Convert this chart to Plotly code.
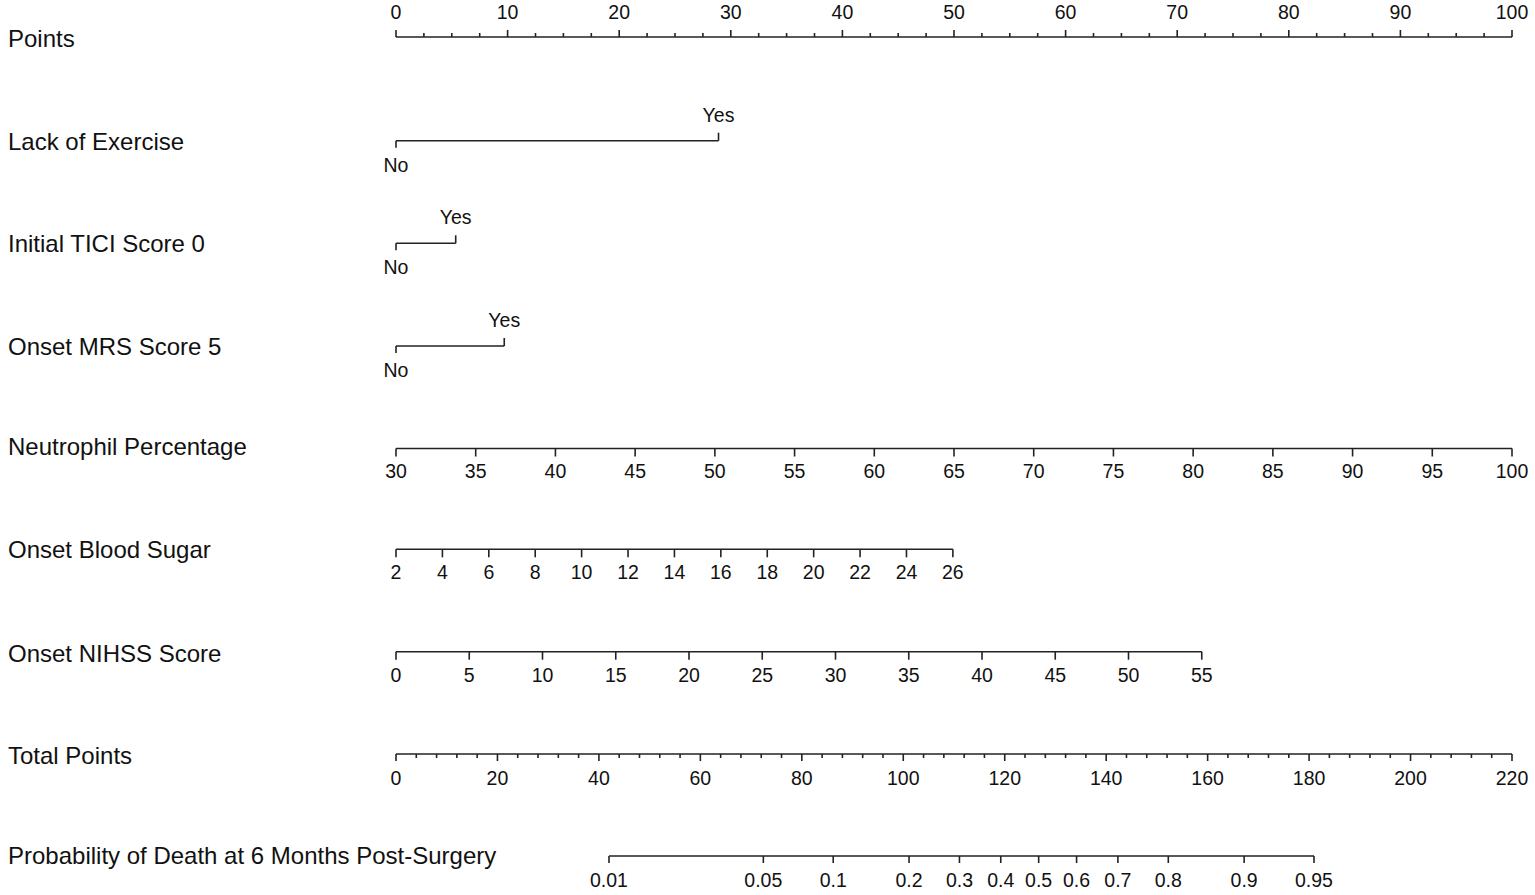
import numpy as np
import plotly.graph_objects as go

# ---------------- data ----------------
row_names = ["Points", "Lack of Exercise", "Initial TICI Score 0", "Onset MRS Score 5",
             "Neutrophil Percentage", "Onset Blood Sugar", "Onset NIHSS Score",
             "Total Points", "Probability of Death at 6 Months Post-Surgery"]

points_major = [0, 10, 20, 30, 40, 50, 60, 70, 80, 90, 100]
points_minor_step = 2.5

lack_levels = ["No", "Yes"]
lack_points = [0, 28.9]
tici_levels = ["No", "Yes"]
tici_points = [0, 5.35]
mrs_levels = ["No", "Yes"]
mrs_points = [0, 9.7]

neutro_ticks = [30, 35, 40, 45, 50, 55, 60, 65, 70, 75, 80, 85, 90, 95, 100]
neutro_points_range = [0, 100]
sugar_ticks = [2, 4, 6, 8, 10, 12, 14, 16, 18, 20, 22, 24, 26]
sugar_points_range = [0, 49.9]
nihss_ticks = [0, 5, 10, 15, 20, 25, 30, 35, 40, 45, 50, 55]
nihss_points_range = [0, 72.2]

total_major = [0, 20, 40, 60, 80, 100, 120, 140, 160, 180, 200, 220]
total_minor_step = 4
total_max = 220

prob_ticks = [0.01, 0.05, 0.1, 0.2, 0.3, 0.4, 0.5, 0.6, 0.7, 0.8, 0.9, 0.95]
prob_intercept = -6.873   # linear predictor = intercept + slope * total points
prob_slope = 0.05425

# ---------------- layout constants ----------------
W, H = 1535, 895
X0_PX, PX_PER_PT = 396, 11.16
row_y = [37, 140.7, 243.3, 346, 448.5, 549.3, 651.7, 754, 856]
LINE_COLOR = "#222222"
TXT = "#111111"
FONT = "Liberation Sans, Arial, sans-serif"
TICK_FS = 19.5
ROW_FS = 24

def lin_map(vals, vmin, vmax, prange):
    vals = np.asarray(vals, float)
    return prange[0] + (vals - vmin) / (vmax - vmin) * (prange[1] - prange[0])

xs, ys = [], []
def seg(x1, y1, x2, y2):
    xs.extend([x1, x2, None]); ys.extend([y1, y2, None])

text_traces = []
def labels(xv, yv, txt):
    text_traces.append(go.Scatter(x=list(xv), y=[yv] * len(xv), text=list(txt), mode="text",
                                  textposition="middle center", hoverinfo="skip", cliponaxis=False,
                                  textfont=dict(family=FONT, size=TICK_FS, color=TXT)))

def scale_axis(y, pos, labs, up=False, tlen=8, loff=25, minor=None, mlen=4):
    sgn = -1 if up else 1
    seg(min(pos), y, max(pos), y)
    for p in pos:
        seg(p, y, p, y + sgn * tlen)
    if minor is not None:
        for p in minor:
            seg(p, y, p, y + sgn * mlen)
    labels(pos, y + sgn * loff, labs)

# Points
pm = np.array(points_major, float)
pminor = [v for v in np.arange(0, 100 + 1e-9, points_minor_step) if v % 10 != 0]
scale_axis(row_y[0], pm, [str(v) for v in points_major], up=True, tlen=7, loff=23, minor=pminor, mlen=4)

# binary variables
for y, levels, pts in [(row_y[1], lack_levels, lack_points),
                       (row_y[2], tici_levels, tici_points),
                       (row_y[3], mrs_levels, mrs_points)]:
    seg(pts[0], y, pts[1], y)
    seg(pts[0], y, pts[0], y + 7)
    seg(pts[1], y, pts[1], y - 8)
    labels([pts[0]], y + 26, [levels[0]])
    labels([pts[1]], y - 24, [levels[1]])

# continuous variables
for y, ticks, prange in [(row_y[4], neutro_ticks, neutro_points_range),
                         (row_y[5], sugar_ticks, sugar_points_range),
                         (row_y[6], nihss_ticks, nihss_points_range)]:
    pos = lin_map(ticks, ticks[0], ticks[-1], prange)
    scale_axis(y, pos, [str(t) for t in ticks], tlen=8, loff=25)

# Total points
tpos = lin_map(total_major, 0, total_max, [0, 100])
tminor = [v for v in np.arange(0, total_max + 1e-9, total_minor_step) if v % 20 != 0]
scale_axis(row_y[7], tpos, [str(v) for v in total_major], tlen=7, loff=26,
           minor=lin_map(tminor, 0, total_max, [0, 100]), mlen=4)

# Probability
pt = np.array(prob_ticks)
total_at_p = (np.log(pt / (1 - pt)) - prob_intercept) / prob_slope
ppos = lin_map(total_at_p, 0, total_max, [0, 100])
scale_axis(row_y[8], ppos, [f"{v:g}" for v in prob_ticks], tlen=7, loff=26)

fig = go.Figure()
fig.add_trace(go.Scatter(x=xs, y=ys, mode="lines", hoverinfo="skip", cliponaxis=False,
                         line=dict(color=LINE_COLOR, width=1.6)))
for t in text_traces:
    fig.add_trace(t)

for name, y in zip(row_names, [38, 141, 243, 346, 446, 549, 653, 755, 855]):
    fig.add_annotation(x=6 / W, xref="paper", y=y, yref="y", text=name, showarrow=False,
                       xanchor="left", yanchor="middle",
                       font=dict(family=FONT, size=ROW_FS, color=TXT))

fig.update_layout(
    width=W, height=H, margin=dict(l=0, r=0, t=0, b=0),
    paper_bgcolor="white", plot_bgcolor="white", showlegend=False,
    xaxis=dict(range=[-X0_PX / PX_PER_PT, (W - X0_PX) / PX_PER_PT], visible=False, fixedrange=True),
    yaxis=dict(range=[H, 0], visible=False, fixedrange=True),
)
fig.write_html("out.html", config={"displayModeBar": False},
               post_script="document.body.style.margin='0';document.body.style.overflow='hidden';")
